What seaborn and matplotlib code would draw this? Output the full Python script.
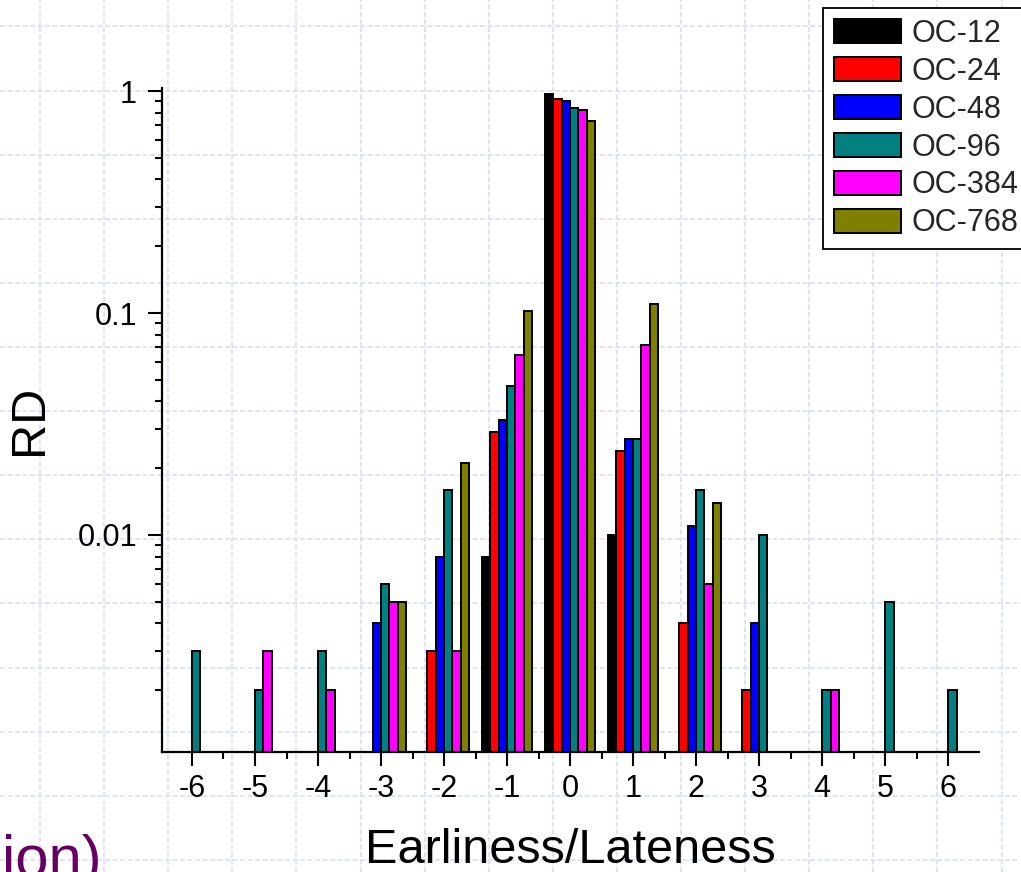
import numpy as np
import pandas as pd
import matplotlib
matplotlib.use("Agg")
import matplotlib.pyplot as plt
import seaborn as sns
from matplotlib.ticker import FixedLocator, LogLocator, NullFormatter

# Relative deviation (RD) of completion offsets per order-cost setting
offsets = ["-6", "-5", "-4", "-3", "-2", "-1", "0", "1", "2", "3", "4", "5", "6"]
series = ["OC-12", "OC-24", "OC-48", "OC-96", "OC-384", "OC-768"]
nan = np.nan
oc_12 = [nan, nan, nan, nan, nan, 0.008, 0.97, 0.010, nan, nan, nan, nan, nan]
oc_24 = [nan, nan, nan, nan, 0.003, 0.029, 0.92, 0.024, 0.004, 0.002, nan, nan, nan]
oc_48 = [nan, nan, nan, 0.004, 0.008, 0.033, 0.90, 0.027, 0.011, 0.004, nan, nan, nan]
oc_96 = [0.003, 0.002, 0.003, 0.006, 0.016, 0.047, 0.84, 0.027, 0.016, 0.010, 0.002, 0.005, 0.002]
oc_384 = [nan, 0.003, 0.002, 0.005, 0.003, 0.065, 0.82, 0.072, 0.006, nan, 0.002, nan, nan]
oc_768 = [nan, nan, nan, 0.005, 0.021, 0.102, 0.73, 0.110, 0.014, nan, nan, nan, nan]
colors = ["#000000", "#ff0000", "#0000ff", "#008080", "#ff00ff", "#808000"]

rows = []
for name, vals in zip(series, [oc_12, oc_24, oc_48, oc_96, oc_384, oc_768]):
    for off, v in zip(offsets, vals):
        if not np.isnan(v):
            rows.append({"offset": off, "series": name, "rd": v})
df = pd.DataFrame(rows)

sns.set_theme(style="white")
plt.rcParams["font.family"] = ["Liberation Sans", "DejaVu Sans"]

W, H = 1021, 872
fig = plt.figure(figsize=(W / 100, H / 100), dpi=100)
fig.patch.set_facecolor("white")

# slide background: light dashed grid
bg = fig.add_axes([0, 0, 1, 1], zorder=0)
bg.set_xlim(0, W)
bg.set_ylim(H, 0)
bg.axis("off")
grid_kw = dict(color="#d6def9", lw=1.2, ls=(0, (3, 1.5)))
for gx in np.arange(40, W, 64.1):
    bg.axvline(gx, **grid_kw)
for gy in np.arange(26.5, H, 64.1):
    bg.axhline(gy, **grid_kw)

ax = fig.add_axes([162 / W, 1 - 752 / H, 817 / W, 664 / H], zorder=1)
ax.patch.set_alpha(0)
ax.set_yscale("log")

sns.barplot(data=df, x="offset", y="rd", hue="series", order=offsets,
            hue_order=series, palette=colors, edgecolor="black",
            linewidth=1.4, width=0.8, errorbar=None, saturation=1,
            ax=ax)

ax.set_ylim(0.001053, 1.032)
ax.set_xlim(-0.476, 12.49)

for side in ["top", "right"]:
    ax.spines[side].set_visible(False)
for side in ["left", "bottom"]:
    ax.spines[side].set_linewidth(1.6)
    ax.spines[side].set_color("black")

ax.yaxis.set_major_locator(FixedLocator([0.01, 0.1, 1]))
ax.set_yticklabels(["0.01", "0.1", "1"])
ax.yaxis.set_minor_locator(LogLocator(base=10, subs=np.arange(2, 10)))
ax.yaxis.set_minor_formatter(NullFormatter())
ax.xaxis.set_minor_locator(FixedLocator(np.arange(0.5, 12, 1.0)))

ax.tick_params(axis="both", which="major", direction="out", length=10,
               width=1.5, color="black", labelsize=22, labelcolor="black",
               left=True, bottom=True)
ax.tick_params(axis="both", which="minor", direction="out", length=5,
               width=1.5, color="black", left=True, bottom=True)
ax.tick_params(axis="y", which="major", pad=8)
ax.tick_params(axis="x", which="major", pad=6)

ax.set_xlabel("Earliness/Lateness", fontsize=35, labelpad=17, color="black")
ax.set_ylabel("RD", fontsize=35, labelpad=18, color="black")

handles, labels = ax.get_legend_handles_labels()
if ax.legend_ is not None:
    ax.legend_.remove()
leg = fig.legend(handles, labels, loc="upper left",
                 bbox_to_anchor=(823 / W, 1 - 8 / H), fontsize=22,
                 frameon=True, fancybox=False, framealpha=1,
                 edgecolor="black", borderpad=0.35, labelspacing=0.26,
                 handlelength=2.2, handleheight=0.85, handletextpad=0.33,
                 borderaxespad=0)
leg.get_frame().set_linewidth(1.3)
leg.set_zorder(5)

fig.text(0.002, -5 / H, "ion)", fontsize=43, color="#650062",
         ha="left", va="baseline")

fig.savefig("out.png", dpi=100)
